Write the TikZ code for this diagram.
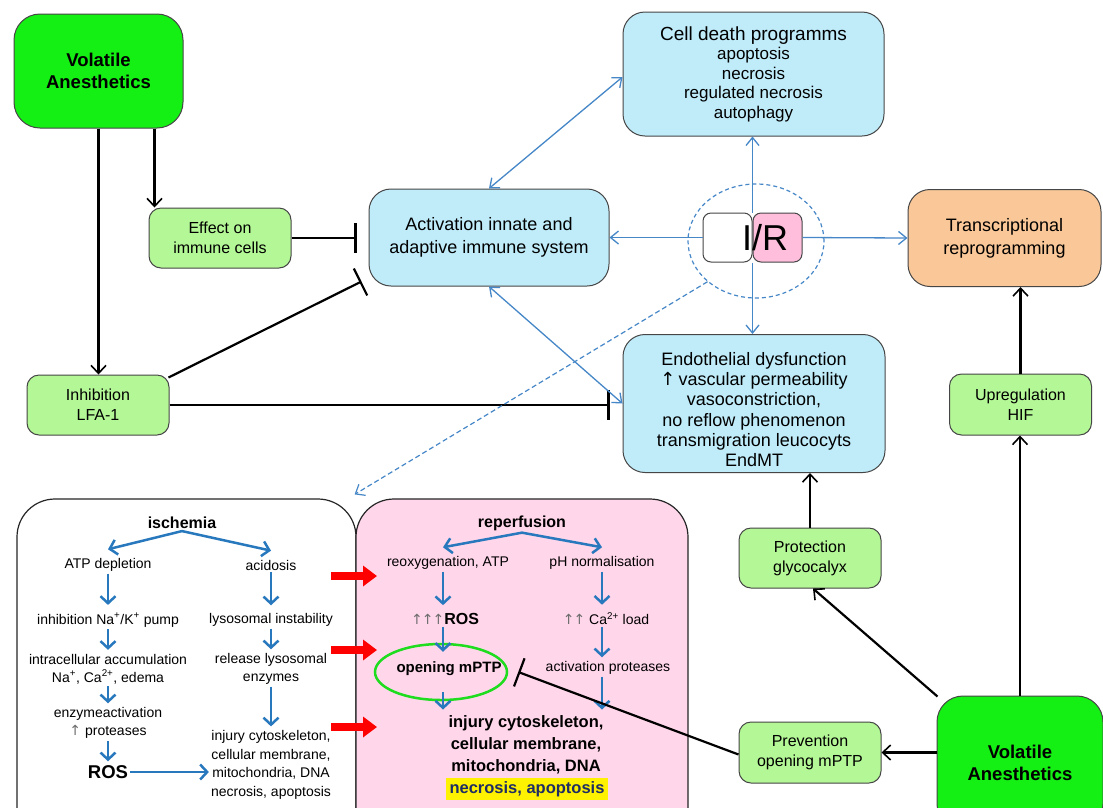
\documentclass[tikz,border=0pt]{standalone}
\usepackage{fontspec}
\setmainfont{Liberation Sans}
\newfontfamily\djv{DejaVu Sans}
\usetikzlibrary{arrows.meta,shapes.geometric,calc}

\definecolor{vgreen}{RGB}{20,240,20}
\definecolor{lgreen}{RGB}{180,247,150}
\definecolor{lblue}{RGB}{192,236,250}
\definecolor{lorange}{RGB}{250,200,152}
\definecolor{lpink}{RGB}{255,214,234}
\definecolor{irpink}{RGB}{255,190,220}
\definecolor{bdr}{RGB}{70,70,70}
\definecolor{tblue}{RGB}{70,135,200}
\definecolor{bblue}{RGB}{40,120,190}
\definecolor{navy}{RGB}{30,45,100}
\definecolor{uparr}{RGB}{110,110,110}
\definecolor{ellgreen}{RGB}{30,220,30}

\newcommand{\fs}[2]{\fontsize{#1}{#2}\selectfont}
\newcommand{\up}{{\djv\color{uparr}↑}}
\newcommand{\upb}{{\djv ↑}}

\begin{document}
\begin{tikzpicture}[x=1pt,y=-1pt,
  bigbox/.style={draw=bdr,line width=1pt,rounded corners=22pt,align=center,inner sep=0pt},
  gbox/.style={draw=bdr,line width=1pt,rounded corners=12pt,align=center,inner sep=0pt,fill=lgreen,minimum width=142pt,minimum height=60pt,font=\fs{16}{20}},
  vabox/.style={draw=bdr,line width=1pt,rounded corners=26pt,align=center,inner sep=0pt,fill=vgreen,font=\bfseries\fs{18.5}{22}},
  txt/.style={inner sep=2pt,align=center,font=\fs{14}{18}},
  blkarr/.style={draw=black,line width=2.2pt,-{Straight Barb[length=8pt,width=15pt,line width=1.6pt]}},
  blkbar/.style={draw=black,line width=2.2pt,-{Bar[width=30pt]}},
  bluarr/.style={draw=tblue,line width=1.3pt,-{Straight Barb[length=8pt,width=13pt]}},
  bluedbl/.style={draw=tblue,line width=1.3pt,{Straight Barb[length=8pt,width=13pt]}-{Straight Barb[length=8pt,width=13pt]}},
  barr/.style={draw=bblue,line width=2.5pt,-{Straight Barb[length=7pt,width=15pt]}},
  redarr/.style={draw=red,line width=8pt,-{Triangle[length=14pt,width=20pt]}}
]
\useasboundingbox (0,0) rectangle (1103,807);
\clip (0,0) rectangle (1103,807);
\fill[white] (0,0) rectangle (1103,807);

% ---------- top part ----------
\node[vabox,minimum width=169pt,minimum height=114pt] (va1) at (98.5,71) {Volatile\\Anesthetics};
\node[gbox] (eff) at (220,238) {Effect on\\immune cells};
\node[gbox] (lfa) at (98,405) {Inhibition\\LFA-1};
\node[bigbox,fill=lblue,minimum width=240pt,minimum height=97pt,font=\fs{18}{23}] (act) at (489,237.5) {Activation innate and\\adaptive immune system};
\node[bigbox,fill=lblue,minimum width=261pt,minimum height=124pt,font=\fs{17}{19.5}] (cell) at (753.5,74) {{\fs{19}{22}Cell death programms}\\apoptosis\\necrosis\\regulated necrosis\\autophagy};
\node[bigbox,fill=lorange,minimum width=193pt,minimum height=97pt,font=\fs{18}{23}] (trans) at (1004.5,238) {Transcriptional\\reprogramming};
\node[bigbox,fill=lblue,minimum width=262pt,minimum height=138pt] (endo) at (754,403.5) {};
\node[txt,font=\fs{18}{20.3}] (endot) at (754,409.5) {Endothelial dysfunction\\\upb\,vascular permeability\\vasoconstriction,\\no reflow phenomenon\\transmigration leucocyts\\EndMT};
\node[gbox,minimum height=61pt] (hif) at (1020.5,404.5) {Upregulation\\HIF};
\node[gbox] (prot) at (810,558) {Protection\\glycocalyx};
\node[gbox,minimum height=61pt] (prev) at (810,752.5) {Prevention\\opening mPTP};
\node[vabox,minimum width=166pt,minimum height=134pt] (va2) at (1020,763) {Volatile\\Anesthetics};

% I/R
\node[ellipse,draw=tblue,line width=1.2pt,dash pattern=on 4pt off 3pt,minimum width=136pt,minimum height=114pt] (irc) at (756,241) {};
\node[draw=bdr,line width=1pt,fill=white,rounded corners=8pt,minimum width=49pt,minimum height=49pt] (irw) at (727.5,237.5) {};
\node[draw=bdr,line width=1pt,fill=irpink,rounded corners=8pt,minimum width=49pt,minimum height=49pt] (irr) at (777.5,237.5) {};
\node[inner sep=0pt,font=\fs{36}{40}] (irt) at (765,238) {I/R};

% top connectors
\draw[blkarr] ([xshift=6pt]va1.south -| eff.north west) -- ([xshift=6pt]eff.north west);
\draw[blkarr] (va1.south) -- (va1.south |- lfa.north);
\draw[blkbar] (eff.east) -- ([xshift=-12pt]eff.east -| act.west);
\draw[blkbar] ([xshift=-1pt,yshift=-3pt]lfa.north east) -- ([xshift=-7pt,yshift=5pt]act.south west);
\draw[blkbar] (lfa.east) -- ([xshift=-13pt]lfa.east -| endo.west);

\draw[bluedbl] (act.north) -- ([yshift=-3pt]cell.west);
\draw[bluedbl] (act.south) -- (endo.west);
\draw[bluarr] (irw.west) -- (act.east);
\draw[bluarr] (irr.east) -- (trans.west);
\draw[bluarr] (irw.north east) -- (irw.north east |- cell.south);
\draw[bluarr] (irw.south east) -- (irw.south east |- endo.north);

% right connectors
\draw[blkarr] (prot.north) -- (prot.north |- endo.south);
\draw[blkarr] ([xshift=1pt,yshift=-1pt]va2.north west) -- ([xshift=3pt]prot.south);
\draw[blkarr] (va2.west |- prev.east) -- (prev.east);
\draw[blkarr] (va2.north) -- (va2.north |- hif.south);
\draw[blkarr] (hif.north) -- (hif.north |- trans.south);

% ---------- bottom boxes ----------
\node[draw=black!85,line width=1.2pt,fill=white,rounded corners=38pt,minimum width=339pt,minimum height=360pt,inner sep=0pt] (isch) at (186.5,679) {};
\node[draw=black!85,line width=1.2pt,fill=lpink,rounded corners=38pt,minimum width=332pt,minimum height=360pt,inner sep=0pt] (repb) at (522,679) {};

\draw[tblue,line width=1.2pt,dash pattern=on 5pt off 3pt,-{Straight Barb[length=8pt,width=13pt]}] (irc.south west) -- ([xshift=-2pt,yshift=4pt]isch.north east);

% ischemia content
\node[txt,font=\bfseries\fs{16}{19}] (isA) at (182,523) {ischemia};
\node[txt] (atp) at (108,565) {ATP depletion};
\node[txt] (acid) at (271,565) {acidosis};
\node[txt] (inh) at (108,620) {inhibition Na\textsuperscript{+}/K\textsuperscript{+} pump};
\node[txt] (lys) at (271,620) {lysosomal instability};
\node[txt] (acc) at (108,669) {intracellular accumulation\\Na\textsuperscript{+}, Ca\textsuperscript{2+}, edema};
\node[txt] (rel) at (271,669) {release lysosomal\\enzymes};
\node[txt] (enz) at (108,723) {enzymeactivation\\\up\ proteases};
\node[txt,font=\bfseries\fs{18.5}{22}] (ros) at (108,772) {ROS};
\node[txt,font=\fs{14}{18.6}] (inj) at (271,765) {injury cytoskeleton,\\cellular membrane,\\mitochondria, DNA\\necrosis, apoptosis};

\draw[barr] (isA.south) -- ([yshift=7pt]atp.north);
\draw[barr] (isA.south) -- ([yshift=7pt]acid.north);
\draw[barr] (atp.south) -- ([yshift=6pt]inh.north);
\draw[barr] (inh.south) -- ([yshift=2pt]acc.north);
\draw[barr] (acc.south) -- ([yshift=2pt]enz.north);
\draw[barr] (enz.south) -- ([yshift=2pt]ros.north);
\draw[barr] (ros.east) -- (ros.east -| inj.west);
\draw[barr] (acid.south) -- ([yshift=6pt]lys.north);
\draw[barr] (lys.south) -- ([yshift=2pt]rel.north);
\draw[barr] (rel.south) -- ([yshift=2pt]inj.north);

% reperfusion content
\coordinate (cL) at (443,0);
\coordinate (cR) at (602,0);
\node[txt,font=\bfseries\fs{16}{19}] (rep) at (522,523) {reperfusion};
\node[txt] (reox) at (448,563) {reoxygenation, ATP};
\node[txt] (phn) at (602,563) {pH normalisation};
\node[txt] (ros3) at (445,619) {\up\kern-1pt\up\kern-1pt\up\textbf{\fs{16}{18}ROS}};
\node[txt] (ca) at (606,619) {\up\kern-1pt\up\ Ca\textsuperscript{2+} load};
\node[ellipse,draw=ellgreen,line width=2.5pt,minimum width=132pt,minimum height=56pt,inner sep=0pt] (mptpell) at (441,672) {};
\node[txt,font=\bfseries\fs{15}{17}] (mptp) at (449,669) {opening mPTP};
\node[txt] (actp) at (608,668) {activation proteases};
\node[txt,font=\bfseries\fs{16.5}{22}] (injr) at (526,745) {injury cytoskeleton,\\cellular membrane,\\mitochondria, DNA};
\node[fill=yellow,inner xsep=3.5pt,inner ysep=3pt,text=navy,font=\bfseries\fs{16.5}{20}] (nec) at (527,789) {necrosis, apoptosis};

\draw[barr] (rep.south) -- ([yshift=7pt]reox.north -| cL);
\draw[barr] (rep.south) -- ([yshift=7pt]phn.north -| cR);
\draw[barr] (reox.south -| cL) -- ([yshift=6pt]ros3.north -| cL);
\draw[barr] (ros3.south -| cL) -- ([yshift=-9pt]mptpell.north -| cL);
\draw[barr] ([yshift=9pt]mptpell.south -| cL) -- ([yshift=4pt]injr.north -| cL);
\draw[barr] (phn.south -| cR) -- ([yshift=6pt]ca.north -| cR);
\draw[barr] (ca.south -| cR) -- ([yshift=2pt]actp.north -| cR);
\draw[barr] (actp.south -| cR) -- ([yshift=4pt]injr.north -| cR);

% red arrows
\draw[redarr] (331,576) -- (377,576);
\draw[redarr] (331,650) -- (377,650);
\draw[redarr] (331,727) -- (377,727);

% inhibition of mPTP
\draw[blkbar] ([yshift=-2pt]prev.west) -- ([xshift=10pt]mptpell.east);
\end{tikzpicture}
\end{document}
